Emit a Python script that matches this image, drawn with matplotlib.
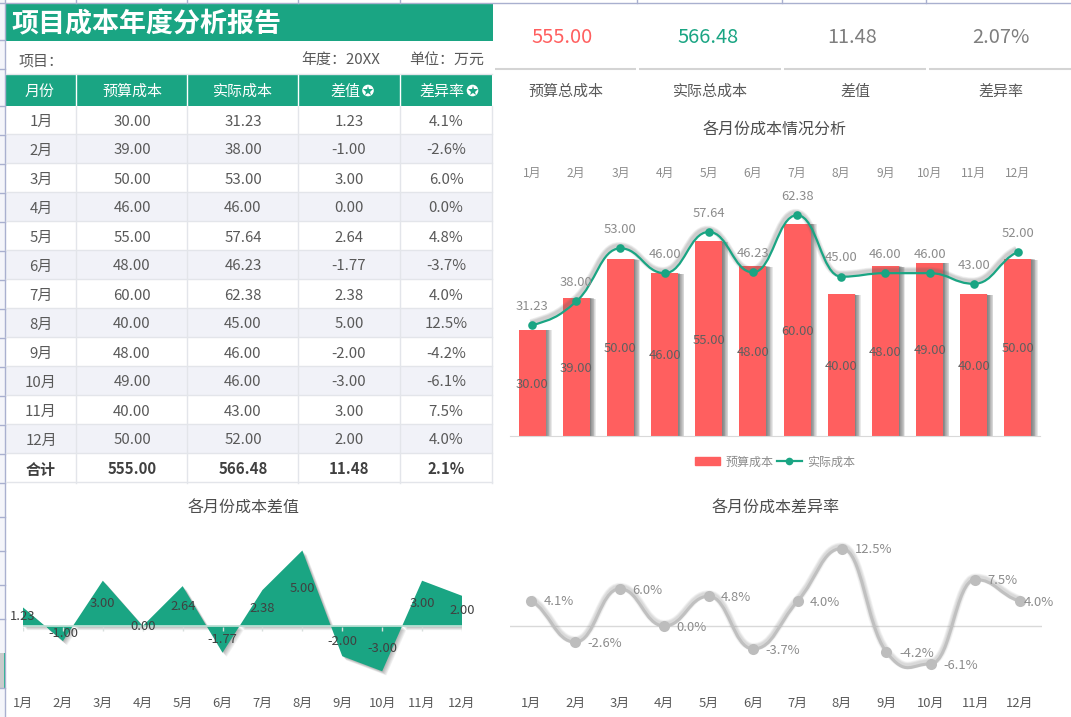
import matplotlib
matplotlib.use("Agg")
import matplotlib.pyplot as plt
import matplotlib.patheffects as pe
from matplotlib.lines import Line2D
from matplotlib.patches import Circle, Patch, PathPatch, Rectangle
from matplotlib.path import Path

plt.rcParams["font.family"] = ["Noto Sans CJK SC", "DejaVu Sans"]

W, H = 1071, 717
GREEN = "#1aa583"
RED = "#ff5f5f"
GRID = "#a9b0cf"
LINE = "#e3e5ea"
TEXT = "#595959"
LABEL = "#8c8c8c"

months = ["1月", "2月", "3月", "4月", "5月", "6月", "7月", "8月", "9月", "10月", "11月", "12月"]
budget = [30, 39, 50, 46, 55, 48, 60, 40, 48, 49, 40, 50]
actual = [31.23, 38, 53, 46, 57.64, 46.23, 62.38, 45, 46, 46, 43, 52]
diff = [1.23, -1, 3, 0, 2.64, -1.77, 2.38, 5, -2, -3, 3, 2]
rate = [4.1, -2.6, 6.0, 0.0, 4.8, -3.7, 4.0, 12.5, -4.2, -6.1, 7.5, 4.0]

headers = ["月份", "预算成本", "实际成本", "差值", "差异率"]
totals = ["合计", "555.00", "566.48", "11.48", "2.1%"]
kpi_values = ["555.00", "566.48", "11.48", "2.07%"]
kpi_names = ["预算总成本", "实际总成本", "差值", "差异率"]
kpi_colors = [RED, GREEN, "#7f7f7f", "#7f7f7f"]


def px(size):
    return size * 0.72


def axes_px(left, top, right, bottom):
    return fig.add_axes([left / W, 1 - bottom / H, (right - left) / W, (bottom - top) / H])


def smooth_path(xs, ys):
    # bezier through the points, flat at each peak and trough
    slopes = []
    for i in range(len(ys)):
        if i == 0 or i == len(ys) - 1:
            nb = min(i + 1, len(ys) - 1)
            slopes.append((ys[nb] - ys[nb - 1]) * 0.6)
        elif (ys[i] - ys[i - 1]) * (ys[i + 1] - ys[i]) <= 0:
            slopes.append(0)
        else:
            slopes.append((ys[i + 1] - ys[i - 1]) / 2)
    verts = [(xs[0], ys[0])]
    codes = [Path.MOVETO]
    for i in range(len(ys) - 1):
        verts.append((xs[i] + 0.45, ys[i] + slopes[i] * 0.45))
        verts.append((xs[i + 1] - 0.45, ys[i + 1] - slopes[i + 1] * 0.45))
        verts.append((xs[i + 1], ys[i + 1]))
        codes += [Path.CURVE4] * 3
    return Path(verts, codes)


def blur_line(color, width, offset, alpha):
    effects = []
    for extra in [3.5, 2.5, 1.5, 0.7]:
        effects.append(pe.Stroke(linewidth=width + extra, foreground=color, alpha=alpha, offset=offset))
    effects.append(pe.Normal())
    return effects


def blur_patch(dx, dy, alpha, steps=8):
    effects = []
    for k in range(steps, 0, -1):
        effects.append(pe.SimplePatchShadow(offset=(dx * k / steps, dy * k / steps), shadow_rgbFace="#303030",
                                            alpha=alpha, rho=1))
    effects.append(pe.Normal())
    return effects


fig = plt.figure(figsize=(W / 100, H / 100), dpi=100, facecolor="white")

# sheet background and the table, in pixel coordinates
bg = fig.add_axes([0, 0, 1, 1])
bg.set_xlim(0, W)
bg.set_ylim(H, 0)
bg.axis("off")

bg.add_patch(Rectangle((0, 0), 5, H, color="#f4f5fa", lw=0))
bg.plot([5, 5], [0, H], color=GRID, lw=1)
bg.plot([0, W], [3, 3], color=GRID, lw=1)
for y in [40, 69, 106, 135, 164, 193, 222, 251, 280, 309, 338, 367, 396, 425, 454, 483, 517, 551, 585, 619, 688]:
    bg.plot([0, 5], [y, y], color=GRID, lw=1)
for x in [76, 187, 298, 400, 637, 782, 926]:
    bg.plot([x, x], [0, 3], color=GRID, lw=1)
bg.add_patch(Rectangle((0, 653), 4, 35, color="#c9cbcc", lw=0))
bg.add_patch(Rectangle((4, 653), 2, 35, color="#1fb58a", lw=0))

bg.add_patch(Rectangle((5.5, 3.5), 487, 37.5, color=GREEN, lw=0))
bg.text(11, 24.5, "项目成本年度分析报告", color="white", fontsize=px(27), fontweight="bold", va="center")
bg.text(19, 61, "项目：", color=TEXT, fontsize=px(15), va="center")
bg.text(301, 61, "年度：20XX", color=TEXT, fontsize=px(15), va="center")
bg.text(409, 61, "单位：万元", color=TEXT, fontsize=px(15), va="center")

col_edges = [5.5, 76, 187, 298, 400, 492]
col_mid = [41, 132, 243, 349, 446]
row_top = 106
row_h = 29

bg.add_patch(Rectangle((5.5, 74.5), 486.5, 31.5, color=GREEN, lw=0))
bg.plot([5.5, 492], [74, 74], color=LINE, lw=1)
for x in col_edges[1:-1]:
    bg.plot([x, x], [75, 106], color="white", lw=1)
header_x = [40, 132, 243, 345, 442]
for x, label in zip(header_x, headers):
    bg.text(x, 92, label, color="white", fontsize=px(15), ha="center", va="center")
for x in [368, 472.5]:
    bg.add_patch(Circle((x, 90.5), 5.8, color="white", lw=0))
    bg.plot([x], [90.5], marker="*", ms=7, color=GREEN, mew=0)

for i in range(12):
    y0 = row_top + i * row_h
    if i % 2 == 1:
        bg.add_patch(Rectangle((5.5, y0), 486.5, row_h, color="#f1f2f8", lw=0))
    cells = [months[i], f"{budget[i]:.2f}", f"{actual[i]:.2f}", f"{diff[i]:.2f}", f"{rate[i]:.1f}%"]
    for x, cell in zip(col_mid, cells):
        bg.text(x, y0 + row_h / 2 + 1, cell, color=TEXT, fontsize=px(15), ha="center", va="center")
y0 = row_top + 12 * row_h
for x, cell in zip(col_mid, totals):
    bg.text(x, y0 + row_h / 2 + 1, cell, color="#404040", fontsize=px(15), fontweight="bold", ha="center", va="center")
for i in range(1, 14):
    y = row_top + i * row_h - 1
    bg.plot([5.5, 492], [y, y], color=LINE, lw=1)
for x in col_edges[1:]:
    bg.plot([x, x], [row_top, 483], color=LINE, lw=1)

# KPI strip
kpi_x = [562, 707.5, 852.5, 1001]
name_x = [565.5, 710.5, 855, 1001]
sep = [(495, 636), (639, 781), (784, 926), (929, 1071)]
for i in range(4):
    bg.text(kpi_x[i], 37.5, kpi_values[i], color=kpi_colors[i], fontsize=px(20), ha="center", va="center")
    bg.text(name_x[i], 92, kpi_names[i], color=TEXT, fontsize=px(15), ha="center", va="center")
    bg.plot(sep[i], [69, 69], color="#d4d4d4", lw=1.5, solid_capstyle="butt")

bg.text(775, 130, "各月份成本情况分析", color="#4d4d4d", fontsize=px(16), ha="center", va="center")
bg.text(244, 508, "各月份成本差值", color="#4d4d4d", fontsize=px(16), ha="center", va="center")
bg.text(776, 508, "各月份成本差异率", color="#4d4d4d", fontsize=px(16), ha="center", va="center")

# bars and line
x_pos = list(range(12))
ax = axes_px(510, 183, 1040, 436)
ax.patch.set_alpha(0)
ax.set_xlim(-0.5, 11.5)
ax.set_ylim(0, 253 / 3.54)
bars = ax.bar(x_pos, budget, width=0.61, color=RED, zorder=2)
for b in bars:
    b.set_path_effects(blur_patch(4.5, -0.5, 0.1))
ax.add_patch(PathPatch(smooth_path(x_pos, actual), fill=False, edgecolor=GREEN, lw=1.6, zorder=3,
                       path_effects=blur_line("#666666", 1.6, (-1, 2), 0.09)))
ax.plot(x_pos, actual, "o", color=GREEN, ms=6.2, mew=0, zorder=4)
for x, v in zip(x_pos, budget):
    ax.annotate(f"{v:.2f}", (x, v / 2), xytext=(0, -1), textcoords="offset points", color="#5f5f5f",
                fontsize=px(13), ha="center", va="center", zorder=5)
for x, v in zip(x_pos, actual):
    ax.annotate(f"{v:.2f}", (x, v), xytext=(0, 13.5), textcoords="offset points", color=LABEL,
                fontsize=px(13), ha="center", va="center", zorder=5)
ax.xaxis.tick_top()
ax.set_xticks(x_pos, months)
ax.tick_params(axis="x", length=0, pad=2.5, labelsize=px(12), labelcolor=LABEL)
ax.set_yticks([])
for side in ["top", "left", "right"]:
    ax.spines[side].set_visible(False)
ax.spines["bottom"].set_color("#d9d9d9")
handles = [Patch(color=RED), Line2D([], [], color=GREEN, lw=1.6, marker="o", ms=5.5, mew=0)]
ax.legend(handles, ["预算成本", "实际成本"], ncol=2, loc="center", bbox_to_anchor=(775 / W, 1 - 462 / H),
          bbox_transform=fig.transFigure, frameon=False, fontsize=px(12), labelcolor=LABEL,
          handlelength=2.1, handleheight=0.6, handletextpad=0.4, columnspacing=0.3, borderpad=0)

# difference area
ax2 = axes_px(23, 545, 462, 693)
ax2.patch.set_alpha(0)
ax2.set_xlim(0, 11)
ax2.set_ylim((626 - 693) / 15.1, (626 - 545) / 15.1)
area = ax2.fill_between(x_pos, diff, 0, color=GREEN, lw=0, zorder=2)
area.set_path_effects(blur_patch(3, -3, 0.05))
ax2.axhline(0, color="#b9dfd3", lw=1.3, zorder=3)
ax2.vlines(x_pos, -0.33, -0.07, color="#d9dfdd", lw=1, zorder=3)
for x, v in zip(x_pos, diff):
    ax2.text(x, v / 2, f"{v:.2f}", color="#404040", fontsize=px(13), ha="center", va="center", zorder=5,
             clip_on=False)
ax2.set_xticks(x_pos, months)
ax2.tick_params(axis="x", length=0, pad=3, labelsize=px(13), labelcolor=TEXT)
ax2.set_yticks([])
for side in ax2.spines:
    ax2.spines[side].set_visible(False)

# difference rate line
ax3 = axes_px(510, 530, 1042, 693)
ax3.patch.set_alpha(0)
ax3.set_xlim(-0.47, 11.5)
ax3.set_ylim((626 - 693) / 6.2, (626 - 530) / 6.2)
ax3.axhline(0, color="#d9d9d9", lw=1, zorder=1)
ax3.add_patch(PathPatch(smooth_path(x_pos, rate), fill=False, edgecolor="#c0c0c0", lw=2.2, zorder=3,
                        path_effects=blur_line("#909090", 2.2, (0, 1.5), 0.09)))
ax3.plot(x_pos, rate, "o", color="#bdbdbd", ms=8, mew=0, zorder=4)
for x, v in zip(x_pos, rate):
    nudge = 2.5 if x == 11 else 9
    ax3.annotate(f"{v:.1f}%", (x, v), xytext=(nudge, -1), textcoords="offset points", color=LABEL,
                 fontsize=px(13), ha="left", va="center", zorder=5, annotation_clip=False)
ax3.set_xticks(x_pos, months)
ax3.tick_params(axis="x", length=0, pad=2.5, labelsize=px(13), labelcolor=TEXT)
ax3.set_yticks([])
for side in ax3.spines:
    ax3.spines[side].set_visible(False)

fig.savefig("out.png", dpi=100)
